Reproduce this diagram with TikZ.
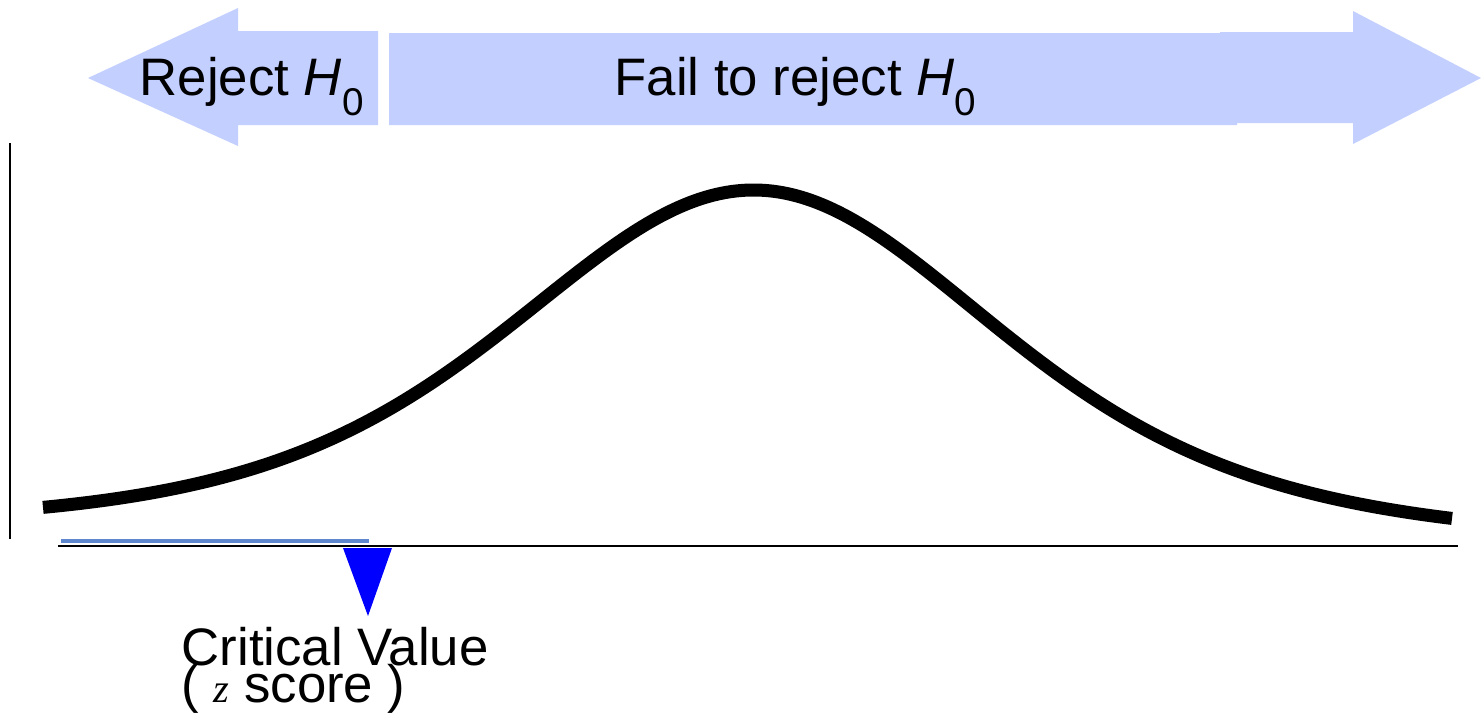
\documentclass[tikz,border=0pt]{standalone}
\usepackage{fontspec}
\setmainfont{Liberation Sans}
\newfontfamily\serifz{Liberation Serif}
\definecolor{arrowblue}{RGB}{195,207,255}
\definecolor{lineblue}{RGB}{95,135,205}
\definecolor{triblue}{RGB}{0,0,255}
\tikzset{
  bigtext/.style={inner sep=0pt, anchor=base west, font=\fontsize{15pt}{16pt}\selectfont},
  axisline/.style={line width=0.6pt, black},
  curveline/.style={line width=0.13cm, black}
}
\newcommand{\Hnull}{\textit{H}\raisebox{-5.7pt}{\fontsize{11pt}{12pt}\selectfont 0}}
\begin{document}
\begin{tikzpicture}[x=0.01cm, y=-0.01cm]
\useasboundingbox (0,0) rectangle (1481,714);
% arrows
\fill[arrowblue] (88,78) -- (238,8) -- (238,31) -- (378,31) -- (378,125) -- (238,125) -- (238,146) -- cycle;
\fill[arrowblue] (389,33) -- (1220,33) -- (1220,32) -- (1353,32) -- (1353,11) -- (1481,78) -- (1353,144) -- (1353,123) -- (1237,123) -- (1237,125) -- (389,125) -- cycle;
\node[bigtext] (rej) at (139,95) {Reject \Hnull};
\node[bigtext] (fail) at (614,95) {Fail to reject \Hnull};
% axes
\coordinate (vtop) at (10,143);
\coordinate (vbot) at (10,539);
\draw[axisline] (vtop) -- (vbot);
\coordinate (hl) at (58,546);
\coordinate (hr) at (1458,546);
\draw[axisline] (hl) -- (hr);
\coordinate (bl) at (61,541);
\coordinate (br) at (369,541);
\draw[lineblue, line width=1pt] (bl) -- (br);
% curve
\draw[curveline] plot[domain=43:1452, samples=300] (\x,{534+0.009*(\x-755)-344/(1+((\x-755)/254)^2/5)^3});
% critical value marker
\fill[triblue] (343,548) -- (392,548) -- (368,616) -- cycle;
\node[bigtext] (cv) at (181,665) {Critical Value};
\node[bigtext] (zs) at (181,702) {( {\serifz\fontsize{11.5pt}{12pt}\selectfont\itshape z} score )};
\end{tikzpicture}
\end{document}
